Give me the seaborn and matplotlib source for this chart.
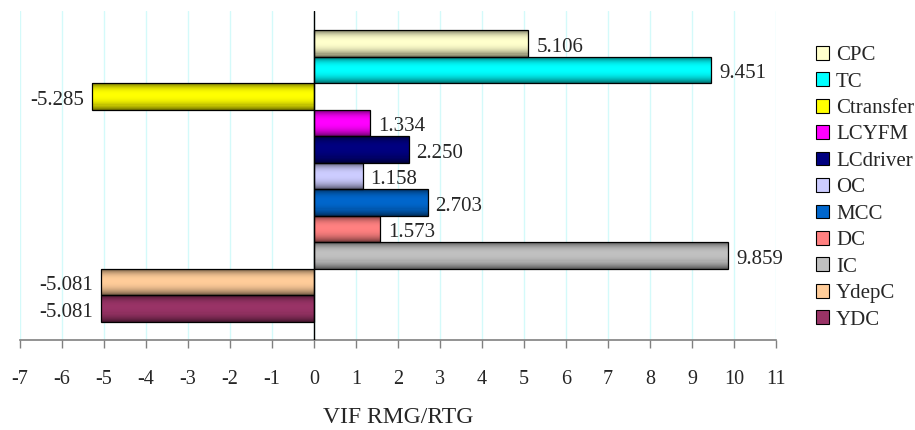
import numpy as np
import pandas as pd
import matplotlib
matplotlib.use("Agg")
import matplotlib.pyplot as plt
import seaborn as sns
from matplotlib.patches import Patch
from matplotlib.colors import to_rgb

categories = ["CPC", "TC", "Ctransfer", "LCYFM", "LCdriver", "OC", "MCC", "DC", "IC", "YdepC", "YDC"]
values = [5.106, 9.451, -5.285, 1.334, 2.250, 1.158, 2.703, 1.573, 9.859, -5.081, -5.081]
colors = ["#FFFFCC", "#00FFFF", "#FFFF00", "#FF00FF", "#000080", "#CCCCFF",
          "#0066CC", "#FF8080", "#C0C0C0", "#FFCC99", "#993366"]
xticks = list(range(-7, 12))
xlabel = "VIF RMG/RTG"

df = pd.DataFrame({"category": categories, "value": values})

sns.set_style("white")
plt.rcParams["font.family"] = ["Liberation Serif", "DejaVu Serif"]

fig = plt.figure(figsize=(9.15, 4.3), dpi=100)
ax = fig.add_axes([20 / 915, 1 - 340 / 430, (776 - 20) / 915, (340 - 11) / 430])

sns.barplot(data=df, x="value", y="category", hue="category", palette=colors,
            orient="h", width=1.0, legend=False, edgecolor="black", linewidth=0.9,
            ax=ax, zorder=3)


def shade(tt):
    c = 0.45
    d = (tt - c) / (c if tt < c else 1 - c)
    return 0.42 + 0.58 * (1 - abs(d) ** 2.4)


# cylindrical gradient shading drawn as thin strips inside each bar
N = 26
bars = list(ax.patches)
for patch, col in zip(bars, colors):
    rgb = np.array(to_rgb(col))
    x0, y0 = patch.get_x(), patch.get_y()
    w, h = patch.get_width(), patch.get_height()
    for k in range(N):
        tk = (k + 0.5) / N
        ax.barh(y0 + (k + 0.5) * h / N, w, left=x0, height=h / N * 1.08,
                color=np.clip(shade(tk) * rgb, 0, 1), linewidth=0, zorder=3.5)
    patch.set_facecolor("none")
    patch.set_zorder(4)

ax.set_xlim(-7, 11)
ax.set_ylim(10.5 + 0.69, -0.5 - 0.72)

# value labels
for i, v in enumerate(values):
    if v >= 0:
        ax.annotate(f"{v:.3f}", xy=(v, i), xytext=(8, -4), textcoords="offset pixels",
                    ha="left", va="center", fontsize=15, zorder=5)
    else:
        ax.annotate(f"{v:.3f}", xy=(v, i), xytext=(-8, -4), textcoords="offset pixels",
                    ha="right", va="center", fontsize=15, zorder=5)

ax.set_xticks(xticks)
ax.set_xticklabels([str(x) for x in xticks], fontsize=14.5)
ax.set_yticks([])
ax.set_ylabel("")
ax.set_xlabel(xlabel, fontsize=17, labelpad=13)
ax.grid(axis="x", color="#D4FAFA", linewidth=1.0, zorder=0)
ax.grid(axis="y", visible=False)
for s in ["left", "right", "top"]:
    ax.spines[s].set_visible(False)
ax.spines["bottom"].set_color("#808080")
ax.spines["bottom"].set_linewidth(1.2)
ax.tick_params(axis="x", direction="out", length=5.8, width=1.0, color="#808080",
               pad=16, bottom=True)
ax.axvline(0, color="black", linewidth=1.0, zorder=6)

handles = [Patch(facecolor=c, edgecolor="black", linewidth=0.8) for c in colors]
fig.legend(handles, categories, loc="upper left", bbox_to_anchor=(816 / 915, 1 - 46 / 430),
           frameon=False, fontsize=15, handlelength=0.63, handleheight=0.63,
           handletextpad=0.33, labelspacing=0.35, borderpad=0, borderaxespad=0)

fig.savefig("out.png", dpi=100)
